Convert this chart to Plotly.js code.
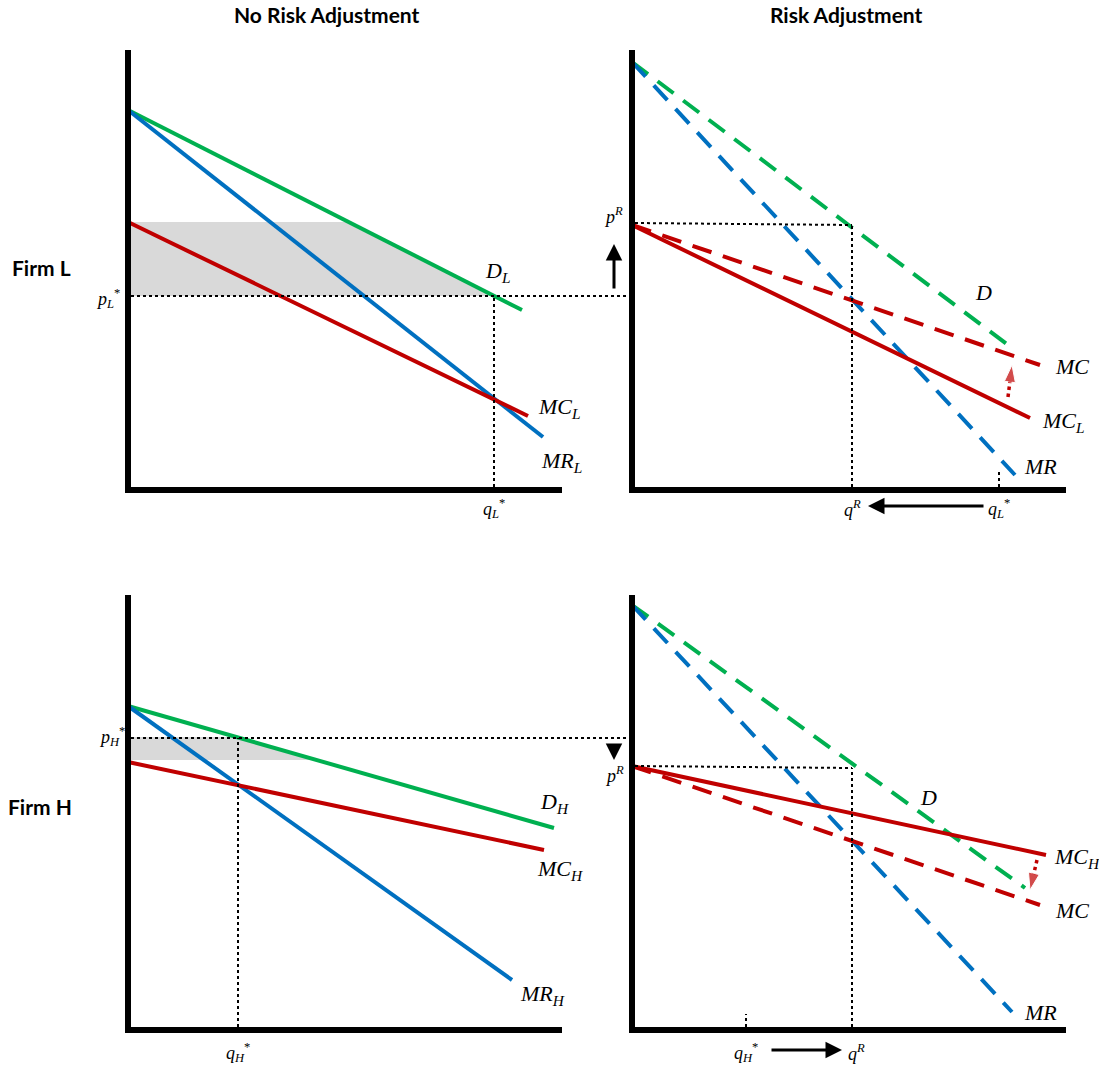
<!DOCTYPE html>
<html>
<head>
<meta charset="utf-8">
<script src="https://cdn.plot.ly/plotly-3.0.1.min.js"></script>
<style>html,body{margin:0;padding:0;background:#fff;}#chart{width:1099px;height:1068px;}</style>
</head>
<body>
<div id="chart"></div>
<script>
// ---------- Data (quantity q, price p; origin at each panel's axis corner) ----------
// Firm L, no risk adjustment
const lDemandQ = [0, 394],  lDemandP = [380, 180];
const lMRQ     = [0, 415],  lMRP     = [380, 53];
const lMCQ     = [0, 400],  lMCP     = [268, 74];
const lPstar = 194, lQstar = 366, lPR = 268;
const lGainQ = [0, 222, 366, 0], lGainP = [268, 268, 194, 194];
// Firm L, risk adjustment
const lrDemandQ = [0, 376], lrDemandP = [428, 145];
const lrMRQ     = [0, 383], lrMRP     = [428, 15];
const lrMCLQ    = [0, 398], lrMCLP    = [265, 72];
const lrMCQ     = [0, 408], lrMCP     = [265, 125];
const lrPR = 267, lrQR = 220, lrQstar = 367;
const lrShiftQ = [376, 380], lrShiftP = [93, 125];
// Firm H, no risk adjustment
const hDemandQ = [0, 426],  hDemandP = [324, 202];
const hMRQ     = [0, 384],  hMRP     = [324, 50];
const hMCQ     = [0, 416],  hMCP     = [268, 180];
const hPstar = 292, hQstar = 110;
const hGainQ = [0, 110, 189, 0], hGainP = [293, 293, 270, 270];
// Firm H, risk adjustment
const hrDemandQ = [0, 393], hrDemandP = [425, 142];
const hrMRQ     = [0, 380], hrMRP     = [425, 18];
const hrMCHQ    = [0, 414], hrMCHP    = [264, 175];
const hrMCQ     = [0, 408], hrMCP     = [264, 125];
const hrPR = 262, hrQR = 220, hrQstar = 114;
const hrShiftQ = [405, 398], hrShiftP = [170, 140];

// ---------- Layout helpers ----------
const W = 1099, H = 1068;
function panel(ox, oy, left, right, top, bottom) {
  return { xd: [left / W, right / W], yd: [1 - bottom / H, 1 - top / H],
           xr: [left - ox, right - ox], yr: [oy - bottom, oy - top] };
}
const P = {
  1: panel(128, 490, 100, 632, 40, 520),
  2: panel(632, 490, 595, 1099, 40, 520),
  3: panel(128, 1030, 100, 632, 580, 1068),
  4: panel(632, 1030, 595, 1099, 580, 1068)
};
const GREEN = '#00b050', BLUE = '#0070c0', RED = '#c00000', GRAY = '#d9d9d9';
const DASH = '20px,12px';

const traces = [];
function ax(n) { return n === 1 ? ['x', 'y'] : ['x' + n, 'y' + n]; }
function ln(n, q, p, color, dash, width) {
  const [xa, ya] = ax(n);
  traces.push({ type: 'scatter', mode: 'lines', x: q, y: p, xaxis: xa, yaxis: ya,
    line: { color: color, width: width || 4, dash: dash || 'solid' }, hoverinfo: 'skip', showlegend: false });
}
function fillPoly(n, q, p) {
  const [xa, ya] = ax(n);
  traces.push({ type: 'scatter', mode: 'lines', x: q, y: p, xaxis: xa, yaxis: ya, fill: 'toself',
    fillcolor: GRAY, line: { width: 0, color: GRAY }, hoverinfo: 'skip', showlegend: false });
}
function dottedArrow(n, q, p) {
  const [xa, ya] = ax(n);
  traces.push({ type: 'scatter', mode: 'lines+markers', x: q, y: p, xaxis: xa, yaxis: ya,
    line: { color: RED, width: 3.5, dash: 'dot' },
    marker: { symbol: 'arrow', angleref: 'previous', size: [0, 18], color: RED },
    hoverinfo: 'skip', showlegend: false });
}

// gray areas first
fillPoly(1, lGainQ, lGainP);
fillPoly(3, hGainQ, hGainP);

// Panel 1
ln(1, lDemandQ, lDemandP, GREEN);
ln(1, lMRQ, lMRP, BLUE);
ln(1, lMCQ, lMCP, RED);
// Panel 2
ln(2, lrDemandQ, lrDemandP, GREEN, DASH);
ln(2, lrMRQ, lrMRP, BLUE, DASH);
ln(2, lrMCLQ, lrMCLP, RED);
ln(2, lrMCQ, lrMCP, RED, DASH);
dottedArrow(2, lrShiftQ, lrShiftP);
// Panel 3
ln(3, hDemandQ, hDemandP, GREEN);
ln(3, hMRQ, hMRP, BLUE);
ln(3, hMCQ, hMCP, RED);
// Panel 4
ln(4, hrDemandQ, hrDemandP, GREEN, DASH);
ln(4, hrMRQ, hrMRP, BLUE, DASH);
ln(4, hrMCHQ, hrMCHP, RED);
ln(4, hrMCQ, hrMCP, RED, DASH);
dottedArrow(4, hrShiftQ, hrShiftP);

// ---------- Shapes: axes and dotted guides ----------
const shapes = [];
function seg(n, x0, y0, x1, y1, kind) {
  const [xa, ya] = ax(n);
  const line = kind === 'axis' ? { color: '#000', width: 6 } : { color: '#000', width: 2, dash: 'dot' };
  shapes.push({ type: 'line', xref: xa, yref: ya, x0: x0, y0: y0, x1: x1, y1: y1, line: line, layer: 'above' });
}
[1, 2].forEach(n => { seg(n, 0, -3, 0, 440, 'axis'); seg(n, -3, 0, 434, 0, 'axis'); });
[3, 4].forEach(n => { seg(n, 0, -3, 0, 435, 'axis'); seg(n, -3, 0, 434, 0, 'axis'); });
// panel 1 guides
seg(1, 3, lPstar, 500, lPstar, 'dot');
seg(1, lQstar, 3, lQstar, lPstar, 'dot');
// panel 2 guides
seg(2, 3, lrPR, lrQR, lrPR - 2, 'dot');
seg(2, lrQR, 3, lrQR, lrPR - 2, 'dot');
seg(2, lrQstar, 3, lrQstar, 20, 'dot');
// panel 3 guides
seg(3, 3, hPstar, 500, hPstar, 'dot');
seg(3, hQstar, 3, hQstar, hPstar, 'dot');
// panel 4 guides
seg(4, 3, hrPR + 2, hrQR, hrPR, 'dot');
seg(4, hrQR, 3, hrQR, hrPR, 'dot');
seg(4, hrQstar, 3, hrQstar, 16, 'dot');

// ---------- Annotations ----------
const anns = [];
const LABF = { family: 'Liberation Serif, DejaVu Serif, serif', size: 22, color: '#000' };
const SMALLF = { family: 'Liberation Serif, DejaVu Serif, serif', size: 18, color: '#000' };
function lab(n, q, p, text, font) {
  const [xa, ya] = ax(n);
  anns.push({ xref: xa, yref: ya, x: q, y: p, text: text, showarrow: false, font: font || LABF,
    xanchor: 'center', yanchor: 'middle' });
}
function arrow(n, q0, p0, q1, p1) {
  const [xa, ya] = ax(n);
  anns.push({ xref: xa, yref: ya, axref: xa, ayref: ya, x: q1, y: p1, ax: q0, ay: p0, text: '',
    showarrow: true, arrowhead: 2, arrowsize: 1.1, arrowwidth: 3, arrowcolor: '#000' });
}
lab(1, 369, 218, '<i>D<sub>L</sub></i>');
lab(1, 431, 82, '<i>MC<sub>L</sub></i>');
lab(1, 433, 28, '<i>MR<sub>L</sub></i>');
lab(1, -20, 192, '<i>p<sub>L</sub></i><sup>*</sup>', SMALLF);
lab(1, lQstar, -18, '<i>q<sub>L</sub></i><sup>*</sup>', SMALLF);

lab(2, -19, 274, '<i>p</i><sup><i>R</i></sup>', SMALLF);
lab(2, 351, 198, '<i>D</i>');
lab(2, 440, 124, '<i>MC</i>');
lab(2, 431, 68, '<i>MC<sub>L</sub></i>');
lab(2, 408, 24, '<i>MR</i>');
lab(2, lrQR, -18, '<i>q</i><sup><i>R</i></sup>', SMALLF);
lab(2, lrQstar, -18, '<i>q<sub>L</sub></i><sup>*</sup>', SMALLF);
arrow(2, -18, 200, -18, 246);
arrow(2, 353, -16, 236, -16);

lab(3, -16, 294, '<i>p<sub>H</sub></i><sup>*</sup>', SMALLF);
lab(3, 426, 227, '<i>D<sub>H</sub></i>');
lab(3, 432, 160, '<i>MC<sub>H</sub></i>');
lab(3, 414, 35, '<i>MR<sub>H</sub></i>');
lab(3, hQstar, -22, '<i>q<sub>H</sub></i><sup>*</sup>', SMALLF);

lab(4, -18, 256, '<i>p</i><sup><i>R</i></sup>', SMALLF);
lab(4, 296, 233, '<i>D</i>');
lab(4, 445, 172, '<i>MC<sub>H</sub></i>');
lab(4, 440, 120, '<i>MC</i>');
lab(4, 408, 18, '<i>MR</i>');
lab(4, hrQstar, -22, '<i>q<sub>H</sub></i><sup>*</sup>', SMALLF);
lab(4, 224, -22, '<i>q</i><sup><i>R</i></sup>', SMALLF);
arrow(4, -18, 286, -18, 270);
arrow(4, 138, -20, 210, -20);

const BOLD = { family: 'Lato, Open Sans, sans-serif', size: 21, color: '#000', weight: 'bold' };
function ptext(px, py, text) {
  anns.push({ xref: 'paper', yref: 'paper', x: px / W, y: 1 - py / H, text: '<b>' + text + '</b>',
    showarrow: false, font: BOLD, xanchor: 'center', yanchor: 'middle' });
}
ptext(327, 14, 'No Risk Adjustment');
ptext(846, 14, 'Risk Adjustment');
ptext(41, 268, 'Firm L');
ptext(40, 806, 'Firm H');

// ---------- Axes ----------
const layout = {
  width: W, height: H, margin: { l: 0, r: 0, t: 0, b: 0 },
  paper_bgcolor: '#fff', plot_bgcolor: 'rgba(0,0,0,0)',
  showlegend: false, shapes: shapes, annotations: anns
};
for (let n = 1; n <= 4; n++) {
  const xs = n === 1 ? 'xaxis' : 'xaxis' + n, ys = n === 1 ? 'yaxis' : 'yaxis' + n;
  const hidden = { showgrid: false, zeroline: false, showticklabels: false, showline: false, ticks: '', fixedrange: true };
  layout[xs] = Object.assign({ domain: P[n].xd, range: P[n].xr, anchor: ax(n)[1] }, hidden);
  layout[ys] = Object.assign({ domain: P[n].yd, range: P[n].yr, anchor: ax(n)[0] }, hidden);
}
Plotly.newPlot('chart', traces, layout, { staticPlot: true });
</script>
</body>
</html>
